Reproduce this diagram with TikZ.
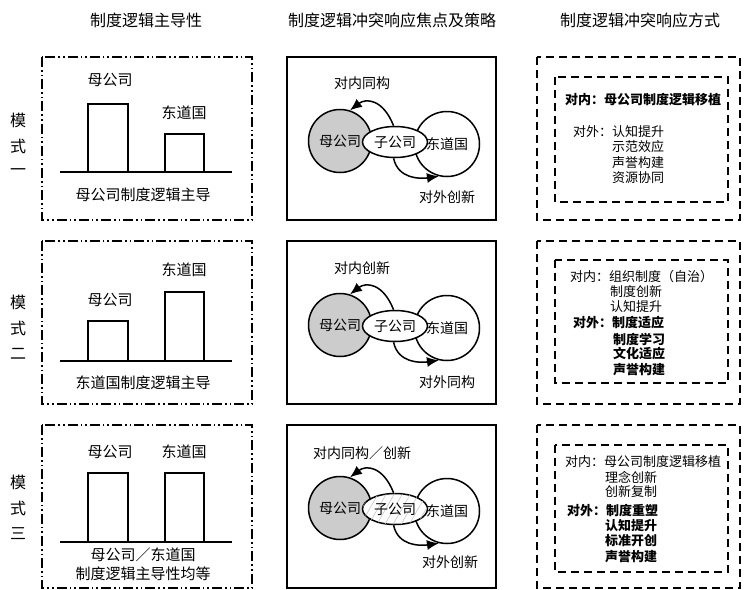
\documentclass[tikz,border=0pt]{standalone}
\usepackage{fontspec}
\setmainfont{Noto Sans CJK SC}
\usetikzlibrary{shapes.geometric,arrows.meta,patterns.meta}
\begin{document}
\begin{tikzpicture}[x=1pt,y=-1pt,
 ddbox/.style={line width=1.3pt, dash pattern=on 10pt off 3pt on 1.6pt off 3pt on 1.6pt off 3pt},
 sbox/.style={line width=1.5pt},
 dbox/.style={line width=1.5pt, dash pattern=on 8pt off 5pt},
 hdr/.style={font=\fontsize{16}{18}\selectfont, inner sep=0},
 mlab/.style={font=\fontsize{16}{18}\selectfont, inner sep=0},
 lab/.style={font=\fontsize{15}{17}\selectfont, inner sep=0},
 clab/.style={font=\fontsize{14}{16}\selectfont, inner sep=0},
 txt/.style={font=\fontsize{13}{15}\selectfont, inner sep=0, anchor=west},
 btxt/.style={inner sep=0, anchor=west, font=\fontsize{13}{15}\selectfont\bfseries},
 bar/.style={line width=1.6pt},
 gcirc/.style={circle, draw, line width=1.5pt, fill=gray!40, minimum size=63pt, inner sep=0, font=\fontsize{14}{16}\selectfont},
 wcirc/.style={circle, draw, line width=1.5pt, fill=white, minimum size=65pt, inner sep=0, font=\fontsize{14}{16}\selectfont},
 ell/.style={ellipse, draw, line width=1.5pt, fill=white, minimum width=65pt, minimum height=31pt, inner sep=0, font=\fontsize{14}{16}\selectfont},
 arr/.style={line width=1.5pt, -{Latex[length=12pt,width=10pt]}},
]
\useasboundingbox (0,0) rectangle (746,589);

% headers
\node[hdr] (h1) at (146,20) {制度逻辑主导性};
\node[hdr] (h2) at (392,20) {制度逻辑冲突响应焦点及策略};
\node[hdr] (h3) at (640,20) {制度逻辑冲突响应方式};

% mode labels
\node[mlab] (ma1) at (18,120) {模};
\node[mlab] (ma2) at (18,146) {式};
\node[mlab] (ma3) at (18,172) {一};
\node[mlab] (mb1) at (18,302) {模};
\node[mlab] (mb2) at (18,328) {式};
\node[mlab] (mb3) at (18,354) {二};
\node[mlab] (mc1) at (18,482) {模};
\node[mlab] (mc2) at (18,508) {式};
\node[mlab] (mc3) at (18,534) {三};

% ---------- left panel ----------
\draw[ddbox] (42,57) rectangle (252,220);
\draw[line width=1.6pt] (60,172) -- (232,172);
\draw[bar] (88,172) -- (88,104) -- (128,104) -- (128,172);
\draw[bar] (165,172) -- (165,134) -- (204,134) -- (204,172);
\node[lab] (la1) at (110,80) {母公司};
\node[lab] (la2) at (184,113) {东道国};
\node[lab] (la3) at (143,195) {母公司制度逻辑主导};

\draw[ddbox] (42,241) rectangle (252,404);
\draw[line width=1.6pt] (60,361) -- (232,361);
\draw[bar] (88,361) -- (88,321) -- (128,321) -- (128,361);
\draw[bar] (165,361) -- (165,292) -- (204,292) -- (204,361);
\node[lab] (lb1) at (110,300) {母公司};
\node[lab] (lb2) at (184,270) {东道国};
\node[lab] (lb3) at (143,383) {东道国制度逻辑主导};

\draw[ddbox] (42,425) rectangle (252,588);
\draw[line width=1.6pt] (60,542) -- (232,542);
\draw[bar] (88,542) -- (88,473) -- (128,473) -- (128,542);
\draw[bar] (165,542) -- (165,473) -- (204,473) -- (204,542);
\node[lab] (lc1) at (110,452) {母公司};
\node[lab] (lc2) at (184,452) {东道国};
\node[lab] (lc3) at (143,555) {母公司／东道国};
\node[lab] (lc4) at (143,574) {制度逻辑主导性均等};

% ---------- middle panel ----------
\draw[sbox] (287,57) rectangle (496,220);
\node[gcirc] (m1) at (340,141) {母公司};
\node[wcirc] (d1) at (447,144) {东道国};
\node[ell] (s1) at (395,142) {子公司};
\draw[arr] (s1.95) .. controls (383,99) and (366,98) .. (m1.72);
\draw[arr] (s1.265) .. controls (398,179) and (420,179) .. (d1.256);
\node[clab] (t1a) at (362,83) {对内同构};
\node[clab] (t1b) at (447,197) {对外创新};

\draw[sbox] (287,241) rectangle (496,404);
\node[gcirc] (m2) at (340,325) {母公司};
\node[wcirc] (d2) at (447,328) {东道国};
\node[ell] (s2) at (395,326) {子公司};
\draw[arr] (s2.95) .. controls (383,283) and (366,282) .. (m2.72);
\draw[arr] (s2.265) .. controls (398,363) and (420,363) .. (d2.256);
\node[clab] (t2a) at (362,268) {对内创新};
\node[clab] (t2b) at (447,382) {对外同构};

\draw[sbox] (287,425) rectangle (496,588);
\node[gcirc] (m3) at (340,508) {母公司};
\node[wcirc] (d3) at (447,511) {东道国};
\node[ell, postaction={pattern={Lines[angle=60,distance=7pt,line width=0.6pt]}, pattern color=gray!45}] (s3) at (395,509) {};
\node[clab] (s3t) at (395,509) {子公司};
\draw[arr] (s3.95) .. controls (383,466) and (366,465) .. (m3.72);
\draw[arr] (s3.265) .. controls (398,546) and (420,546) .. (d3.256);
\node[clab] (t3a) at (362,453) {对内同构／创新};
\node[clab] (t3b) at (450,562) {对外创新};

% ---------- right panel ----------
\draw[dbox] (537,57) rectangle (740,220);
\draw[dbox] (555,77) rectangle (728,202);
\node[btxt] (r1a) at (565,100) {对内：母公司制度逻辑移植};
\node[txt] (r1b) at (573,132) {对外：认知提升};
\node[txt] (r1c) at (612,147) {示范效应};
\node[txt] (r1d) at (612,163) {声誉构建};
\node[txt] (r1e) at (612,178) {资源协同};

\draw[dbox] (537,241) rectangle (740,404);
\draw[dbox] (555,260) rectangle (728,383);
\node[txt] (r2a) at (570,277) {对内：组织制度（自治）};
\node[txt] (r2b) at (610,292) {制度创新};
\node[txt] (r2c) at (610,307) {认知提升};
\node[btxt] (r2d) at (573,323) {对外：制度适应};
\node[btxt] (r2e) at (613,339) {制度学习};
\node[btxt] (r2f) at (613,354) {文化适应};
\node[btxt] (r2g) at (613,370) {声誉构建};

\draw[dbox] (537,425) rectangle (740,588);
\draw[dbox] (555,445) rectangle (728,572);
\node[txt] (r3a) at (565,462) {对内：母公司制度逻辑移植};
\node[txt] (r3b) at (605,477) {理念创新};
\node[txt] (r3c) at (605,492) {创新复制};
\node[btxt] (r3d) at (567,510) {对外：制度重塑};
\node[btxt] (r3e) at (605,526) {认知提升};
\node[btxt] (r3f) at (605,541) {标准开创};
\node[btxt] (r3g) at (605,557) {声誉构建};
\end{tikzpicture}
\end{document}
